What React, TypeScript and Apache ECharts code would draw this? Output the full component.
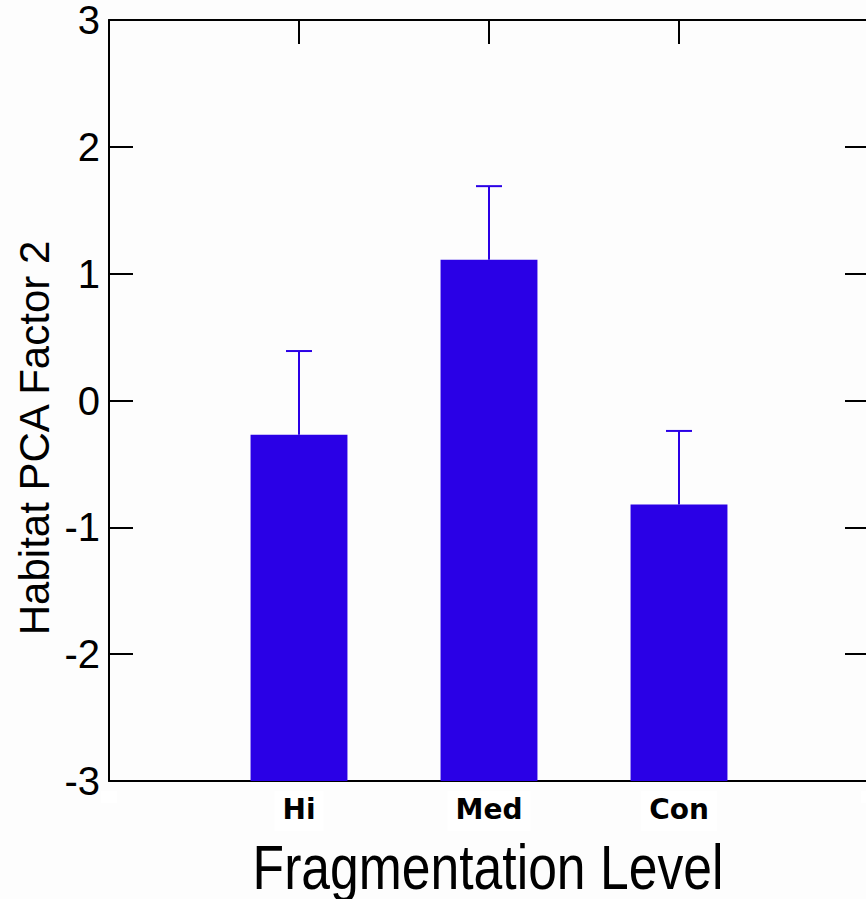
import React, { useEffect, useRef } from "react";
import * as echarts from "echarts";

const categories = ["Hi", "Med", "Con"];
const means = [-0.27, 1.11, -0.82];
const upperErrors = [0.66, 0.58, 0.58];
const yTicks = [-3, -2, -1, 0, 1, 2, 3];
const yTitle = "Habitat PCA Factor 2";
const xTitle = "Fragmentation Level";

const BAR_COLOR = "#2A00E6";
const FONT = "'Liberation Sans', Arial, sans-serif";

export default function App() {
  const ref = useRef<HTMLDivElement>(null);
  useEffect(() => {
    document.body.style.margin = "0";
    const chart = echarts.init(ref.current!, null, { renderer: "svg" });
    const data = categories.map((c, i) => [i + 1, means[i], means[i] + upperErrors[i]]);
    const yMin = yTicks[0];
    const yMax = yTicks[yTicks.length - 1];
    chart.setOption({
      animation: false,
      backgroundColor: "#fdfdfd",
      grid: { left: 109, top: 20, width: 760, height: 761, containLabel: false, outerBoundsMode: "none" },
      xAxis: [
        {
          type: "value",
          position: "bottom",
          min: 0,
          max: categories.length + 1,
          interval: 1,
          splitLine: { show: false },
          axisLine: { show: true, onZero: false, lineStyle: { color: "#000", width: 2 } },
          axisTick: { show: true, inside: true, length: 24, lineStyle: { color: "#000", width: 2 } },
          axisLabel: {
            show: true,
            formatter: (v: number) => (v >= 1 && v <= categories.length ? categories[v - 1] : ""),
            fontFamily: "'DejaVu Sans', sans-serif",
            fontWeight: "bold",
            fontSize: 28,
            color: "#000",
            margin: 10,
            backgroundColor: "#fff",
            padding: [4, 8, 8, 8],
          },
        },
        {
          type: "value",
          position: "top",
          min: 0,
          max: categories.length + 1,
          interval: 1,
          splitLine: { show: false },
          axisLine: { show: true, onZero: false, lineStyle: { color: "#000", width: 2 } },
          axisTick: { show: true, inside: true, length: 24, lineStyle: { color: "#000", width: 2 } },
          axisLabel: { show: false },
        },
      ],
      yAxis: [
        {
          type: "value",
          position: "left",
          min: yMin,
          max: yMax,
          interval: 1,
          splitLine: { show: false },
          axisLine: { show: true, onZero: false, lineStyle: { color: "#000", width: 2 } },
          axisTick: { show: true, inside: true, length: 24, lineStyle: { color: "#000", width: 2 } },
          axisLabel: { fontFamily: FONT, fontSize: 40, color: "#000", margin: 9 },
        },
        {
          type: "value",
          position: "right",
          min: yMin,
          max: yMax,
          interval: 1,
          splitLine: { show: false },
          axisLine: { show: true, onZero: false, lineStyle: { color: "#000", width: 2 } },
          axisTick: { show: true, inside: true, length: 24, lineStyle: { color: "#000", width: 2 } },
          axisLabel: { show: false },
        },
      ],
      graphic: [
        {
          type: "text",
          x: 34,
          y: 438,
          rotation: Math.PI / 2,
          style: {
            text: yTitle,
            font: `42px ${FONT}`,
            fill: "#000",
            align: "center",
            verticalAlign: "middle",
          },
        },
        {
          type: "text",
          x: 488,
          y: 867,
          scaleX: 0.82,
          style: {
            text: xTitle,
            font: `63px ${FONT}`,
            fill: "#000",
            align: "center",
            verticalAlign: "middle",
          },
        },
      ],
      series: [
        {
          type: "custom",
          xAxisIndex: 0,
          yAxisIndex: 0,
          data,
          renderItem: (params: any, api: any) => {
            const x = api.value(0);
            const m = api.value(1);
            const hi = api.value(2);
            const bw = api.size([1, 0])[0] * 0.51;
            const capW = api.size([1, 0])[0] * 0.137;
            const base = api.coord([x, yMin]);
            const top = api.coord([x, m]);
            const errTop = api.coord([x, hi]);
            return {
              type: "group",
              children: [
                {
                  type: "line",
                  shape: { x1: top[0], y1: top[1], x2: errTop[0], y2: errTop[1] },
                  style: { stroke: BAR_COLOR, lineWidth: 2 },
                },
                {
                  type: "line",
                  shape: { x1: errTop[0] - capW / 2, y1: errTop[1], x2: errTop[0] + capW / 2, y2: errTop[1] },
                  style: { stroke: BAR_COLOR, lineWidth: 2 },
                },
                {
                  type: "rect",
                  shape: { x: top[0] - bw / 2, y: top[1], width: bw, height: base[1] - top[1] },
                  style: { fill: BAR_COLOR },
                },
              ],
            };
          },
        },
      ],
    });
    return () => chart.dispose();
  }, []);
  return <div ref={ref} style={{ width: 866, height: 899 }} />;
}
